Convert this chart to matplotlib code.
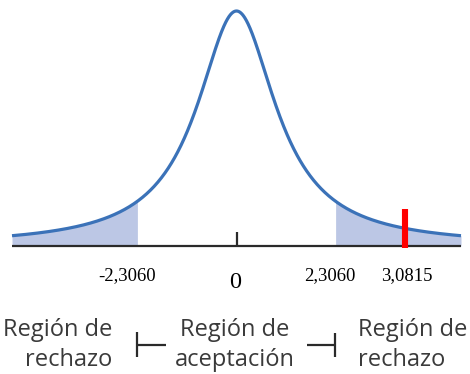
import numpy as np
import matplotlib
matplotlib.use("Agg")
import matplotlib.pyplot as plt
from matplotlib.lines import Line2D

# Critical values of the two-sided t test and the observed statistic
t_critico = 2.3060
t_calculado = 3.0815
etiquetas = ["-2,3060", "0", "2,3060", "3,0815"]
valores_etiqueta = [-t_critico, 0.0, t_critico, t_calculado]
textos_region = [["Región de", "rechazo"], ["Región de", "aceptación"], ["Región de", "rechazo"]]

W, H = 470, 374
fig = plt.figure(figsize=(W / 100, H / 100), dpi=100)

# Axes placed in pixel terms: curve spans x 12..461, baseline at y=246, peak at y=11
x0, x1 = 12, 461
y_base, y_top = 246, 11
ax = fig.add_axes([x0 / W, (H - y_base) / H, (x1 - x0) / W, (y_base - y_top) / H])
ax.set_axis_off()

# Tails are stretched so the rejection zone reads clearly
b = 1.567
ax.set_xscale("function", functions=(lambda t: np.sinh(t / b), lambda u: b * np.arcsinh(u)))
L = 3.52
ax.set_xlim(-L, L)
ax.set_ylim(0, 1)

def densidad(t):
    return 1.0 / np.cosh(t / b) ** 2

azul = "#3b72b8"
relleno = "#bcc7e5"
oscuro = "#2a2a2a"

t = np.linspace(-L, L, 800)
t_izq = np.linspace(-L, -t_critico, 200)
t_der = np.linspace(t_critico, L, 200)
ax.fill_between(t_izq, 0, densidad(t_izq), color=relleno, lw=0)
ax.fill_between(t_der, 0, densidad(t_der), color=relleno, lw=0)
ax.plot(t, densidad(t), color=azul, lw=2.3, clip_on=False, solid_capstyle="butt")

# Baseline and centre tick
ax.plot([-L, L], [0, 0], color=oscuro, lw=1.6, clip_on=False, solid_capstyle="butt")
ax.plot([0, 0], [0, 0.06], color=oscuro, lw=1.6, clip_on=False, solid_capstyle="butt")

# Observed statistic
ax.plot([t_calculado, t_calculado], [-0.009, 0.158], color="#ff0000", lw=4.4,
        clip_on=False, solid_capstyle="butt")

# Value labels under the axis
desplaz_x = [-10, -1, -6, 2]
desplaz_y = [-30, -37, -30, -30]
tamanos = [13.5, 17.5, 13.5, 13.5]
for lab, v, dx, dy, fs in zip(etiquetas, valores_etiqueta, desplaz_x, desplaz_y, tamanos):
    ax.annotate(lab, xy=(v, 0), xycoords="data", xytext=(dx * 0.72, dy * 0.72),
                textcoords="offset points", ha="center", va="center",
                fontsize=fs, family="Liberation Serif", color="black")

# Region captions
gris = "#3a3a3a"
def ftxt(x, y, s, ha):
    fig.text(x / W, 1 - y / H, s, ha=ha, va="baseline", fontsize=17,
             family="Open Sans", color=gris)

anclas = [(112, "right"), (235, "center"), (358, "left")]
for (xa, ha), lineas in zip(anclas, textos_region):
    ftxt(xa, 336, lineas[0], ha)
    ftxt(xa, 366, lineas[1], ha)

# Bracket marks between captions
def fline(xs, ys):
    fig.add_artist(Line2D([x / W for x in xs], [1 - y / H for y in ys],
                          color=oscuro, lw=1.6, solid_capstyle="butt"))

fline([137, 137], [332, 357])
fline([137, 166], [344.5, 344.5])
fline([307, 335], [345, 345])
fline([335, 335], [333, 357])

fig.savefig("out.png", dpi=100)
